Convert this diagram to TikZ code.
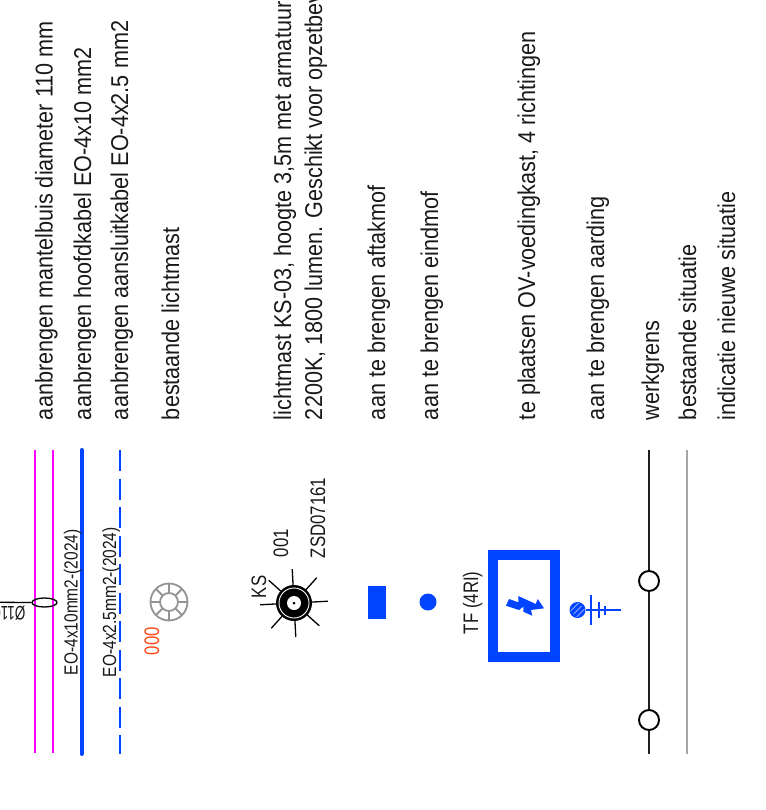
\documentclass[tikz,border=0pt]{standalone}
\usepackage{fontspec}
\usetikzlibrary{shapes.geometric}
\setmainfont{Liberation Sans}
\newfontfamily\labfont[FakeStretch=0.89]{Liberation Sans}
\newfontfamily\eofont[FakeStretch=0.815]{Liberation Sans}
\newfontfamily\symfont[FakeStretch=0.80]{Liberation Sans}
\newfontfamily\diafont[FakeStretch=0.69]{Liberation Sans}
\definecolor{cablue}{HTML}{0044FF}
\definecolor{pinkl}{HTML}{FF00FF}
\definecolor{orng}{HTML}{FF4A1A}
\tikzset{
  lab/.style={rotate=90,anchor=base west,inner sep=0pt,outer sep=0pt,font=\labfont\fontsize{24.3}{24.3}\selectfont,text=black!90},
  eolab/.style={rotate=90,anchor=base west,inner sep=0pt,outer sep=0pt,font=\eofont\fontsize{19}{19}\selectfont,text=black!90},
  sym/.style={rotate=90,anchor=base west,inner sep=0pt,outer sep=0pt,font=\symfont\fontsize{21}{21}\selectfont,text=black!90},
  ray/.style={draw=black,line width=1.3pt},
  grey mast/.style={draw=black!42,line width=1.8pt},
  earth/.style={draw=cablue,line width=1.4pt},
  ringnode/.style={draw=black,fill=white,circle,line width=1.9pt,minimum size=20pt,inner sep=0pt},
}
\begin{document}
\begin{tikzpicture}[x=1pt,y=-1pt]
\useasboundingbox (0,0) rectangle (765,810);
\clip (0,0) rectangle (765,810);
% legend texts
\node[lab] (t1) at (52.7,420) {aanbrengen mantelbuis diameter 110 mm};
\node[lab] (t2) at (91,420) {aanbrengen hoofdkabel EO-4x10 mm2};
\node[lab] (t3) at (128,420) {aanbrengen aansluitkabel EO-4x2.5 mm2};
\node[lab] (t4) at (179,420) {bestaande lichtmast};
\node[lab] (t5) at (291,420) {lichtmast KS-03, hoogte 3,5m met armatuur};
\node[lab] (t6) at (322,420) {2200K, 1800 lumen. Geschikt voor opzetbev};
\node[lab] (t7) at (385,420) {aan te brengen aftakmof};
\node[lab] (t8) at (438,420) {aan te brengen eindmof};
\node[lab] (t9) at (535,420) {te plaatsen OV-voedingkast, 4 richtingen};
\node[lab] (t10) at (604,420) {aan te brengen aarding};
\node[lab] (t11) at (659,420) {werkgrens};
\node[lab] (t12) at (696,420) {bestaande situatie};
\node[lab] (t13) at (735,420) {indicatie nieuwe situatie};
% cables
\coordinate (a1) at (35,450); \coordinate (a2) at (35,753);
\coordinate (b1) at (53,450); \coordinate (b2) at (53,753);
\coordinate (c1) at (81.7,450); \coordinate (c2) at (81.7,754);
\coordinate (d1) at (119.5,450); \coordinate (d2) at (119.5,754);
\draw[pinkl,line width=2.1pt] (a1)--(a2);
\draw[pinkl,line width=2.1pt] (b1)--(b2);
\draw[cablue,line width=4pt,line cap=round] (c1)--(c2);
\draw[cablue,line width=2pt,dash pattern=on 21pt off 7.5pt] (d1)--(d2);
\coordinate (e0) at (0,602.3);
\node[draw=black,line width=1.3pt,ellipse,minimum width=25pt,minimum height=9pt,inner sep=0pt] (sleeve) at (44.5,602.5) {};
\draw[black,line width=1.3pt] (e0)--(sleeve.west);
\node[rotate=180,anchor=base west,inner sep=0pt,font=\diafont\fontsize{19.5}{19.5}\selectfont,text=black!90] (dia) at (25.5,606.5) {Ø110};
\node[eolab] (eo1) at (77.7,675) {EO-4x10mm2-(2024)};
\node[eolab] (eo2) at (116,677) {EO-4x2.5mm2-(2024)};
% existing mast
\begin{scope}[shift={(169,602)}]
\draw[grey mast] (0,0) circle[radius=18.5];
\draw[grey mast] (0,0) circle[radius=9];
\foreach \a in {0,45,...,315}{\draw[grey mast] (\a:9)--(\a:18.5);}
\end{scope}
\node[sym,text=orng] (n0) at (159,655) {000};
% KS mast
\begin{scope}[shift={(294,603)}]
\foreach \a in {-3,42,...,312}{\draw[ray] (\a:17)--(\a:34);}
\fill[black] (0,0) circle[radius=18];
\draw[white,line width=0.9pt] (0,0) circle[radius=15];
\fill[white] (0,0) circle[radius=7];
\fill[black] (0,0) circle[radius=1.5];
\end{scope}
\node[sym] (ks) at (266,598) {KS};
\node[sym] (n1) at (288,557) {001};
\node[sym] (zsd) at (325,558) {ZSD07161};
% joints
\node[fill=cablue,minimum width=18pt,minimum height=33pt,inner sep=0pt] (mof) at (377,602.5) {};
\node[fill=cablue,circle,minimum size=17pt,inner sep=0pt] (eind) at (428,602) {};
\node[sym] (tf) at (478,634) {TF (4RI)};
\node[draw=cablue,line width=10pt,minimum width=62pt,minimum height=102pt,inner sep=0pt] (kast) at (524,606) {};
\fill[cablue] (506,605.7) -- (509,599) -- (518.3,602.3) -- (518.3,596) -- (535.7,604) -- (537.7,599) -- (544,608.3) -- (531,610) -- (532.3,615.7) -- (523.3,611.7) -- (523.3,606.7) -- (519,610) -- cycle;
% earth
\node[fill=cablue,circle,minimum size=16pt,inner sep=0pt] (aard) at (577.5,610) {};
\foreach \h in {-3,0,3}{\draw[white!65!cablue,line width=0.7pt,shift={(577.5,610)}] (-4+\h,4+\h)--(4+\h,-4+\h);}
\coordinate (g1) at (621,610);
\draw[earth] (aard)--(g1);
\foreach \gx/\gh in {591/15,599/8,605/4.5}{\draw[earth] (\gx,610-\gh)--(\gx,610+\gh);}
% boundary
\coordinate (w1) at (649,450); \coordinate (w2) at (649,754);
\coordinate (g2) at (687,450); \coordinate (g3) at (687,754);
\draw[black!88,line width=2.8pt] (w1)--(w2);
\draw[black!35,line width=2pt] (g2)--(g3);
\node[ringnode] (c1n) at (649,581) {};
\node[ringnode] (c2n) at (649,720) {};
\end{tikzpicture}
\end{document}
